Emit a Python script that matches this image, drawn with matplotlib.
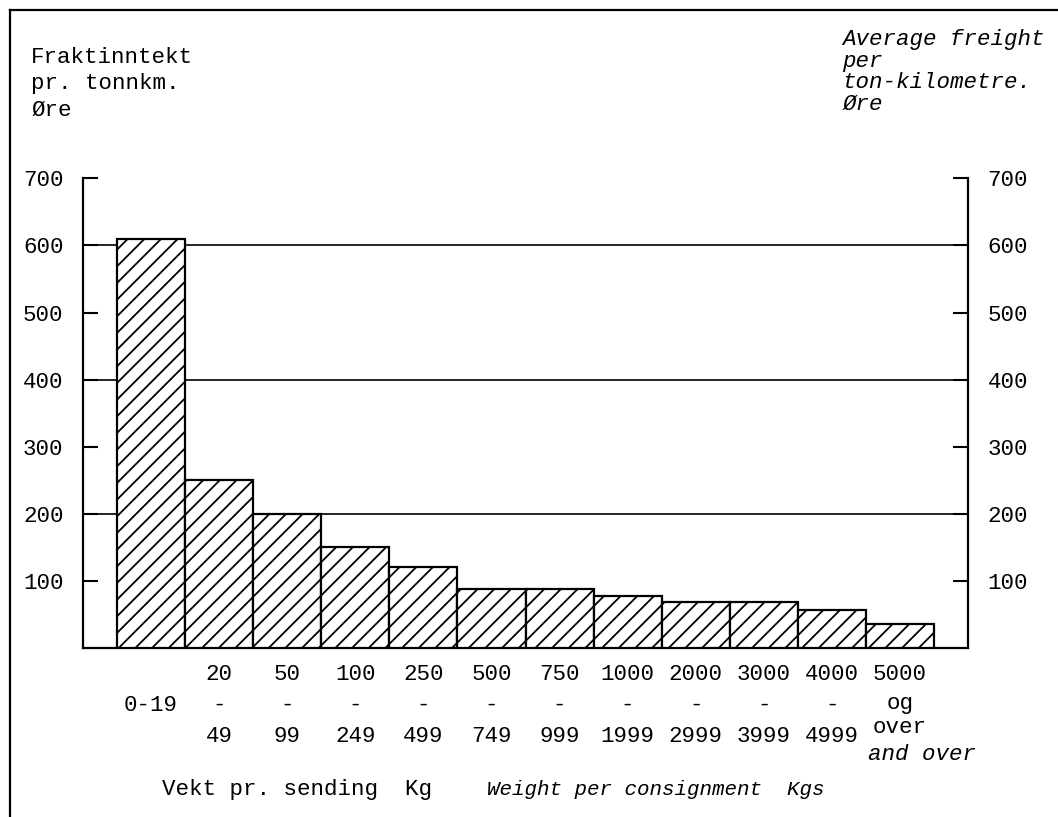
import matplotlib
matplotlib.use("Agg")
import matplotlib.pyplot as plt
import matplotlib.transforms as mtransforms
from matplotlib.lines import Line2D

# ---- data ----
values = [610, 250, 200, 150, 120, 88, 88, 78, 68, 68, 56, 36]
top_row = ["", "20", "50", "100", "250", "500", "750", "1000", "2000", "3000", "4000", "5000"]
mid_row = ["0-19", "-", "-", "-", "-", "-", "-", "-", "-", "-", "-", "og"]
bot_row = ["", "49", "99", "249", "499", "749", "999", "1999", "2999", "3999", "4999", "over"]
y_ticks = [100, 200, 300, 400, 500, 600, 700]
grid_vals = [200, 400, 600]
left_title = ["Fraktinntekt", "pr. tonnkm.", "\u00d8re"]
right_title = ["Average freight", "per", "ton-kilometre.", "\u00d8re"]
xlabel_no = "Vekt pr. sending  Kg"
xlabel_en = "Weight per consignment  Kgs"
and_over = "and over"

W, H = 1058, 817
FONT = "Liberation Mono"
FS = 16.2

plt.rcParams["hatch.linewidth"] = 1.3
plt.rcParams["font.family"] = [FONT, "DejaVu Sans Mono"]

fig = plt.figure(figsize=(W / 100, H / 100), dpi=100)

def fy(py):
    return 1 - py / H

def fx(px):
    return px / W

ax_left, ax_right = 83, 968
ax_bottom, ax_top = 648, 178.4
ax = fig.add_axes([fx(ax_left), fy(ax_bottom), fx(ax_right) - fx(ax_left), fy(ax_top) - fy(ax_bottom)])
ax.set_xlim(-0.5, 12.5)
ax.set_ylim(0, 700)

for g in grid_vals:
    ax.axhline(g, color="black", lw=1.2, zorder=1)

xs = list(range(len(values)))
ax.bar(xs, values, width=1.0, align="edge", color="white", edgecolor="black",
       linewidth=1.6, hatch="//", zorder=3)

ax.spines["top"].set_visible(False)
for s in ["left", "right", "bottom"]:
    ax.spines[s].set_linewidth(1.6)

ax.set_yticks(y_ticks)
ax.set_yticklabels([str(v) for v in y_ticks])
ax.tick_params(axis="y", direction="in", length=11, width=1.5, labelsize=FS,
               left=True, right=True, labelleft=True, labelright=True, pad=14)
ax.set_xticks([])

# x category labels
trans = mtransforms.blended_transform_factory(ax.transData, fig.transFigure)
last = len(xs) - 1
for i in xs:
    cx = i + 0.5
    if top_row[i]:
        ax.text(cx, fy(680), top_row[i], transform=trans, ha="center", va="baseline", fontsize=FS)
    ax.text(cx, fy(709 if i == last else 711), mid_row[i], transform=trans,
            ha="center", va="baseline", fontsize=FS)
    if bot_row[i]:
        ax.text(cx, fy(733 if i == last else 742), bot_row[i], transform=trans,
                ha="center", va="baseline", fontsize=FS)
fig.text(fx(868), fy(760), and_over, ha="left", va="baseline", fontsize=FS, style="italic")

# titles
for k, t in enumerate(left_title):
    fig.text(fx(31), fy(63 + 26.5 * k), t, ha="left", va="baseline", fontsize=FS)
for k, t in enumerate(right_title):
    fig.text(fx(842), fy(45 + 21.5 * k), t, ha="left", va="baseline", fontsize=FS, style="italic")

fig.text(fx(162), fy(795), xlabel_no, ha="left", va="baseline", fontsize=FS)
fig.text(fx(487), fy(795), xlabel_en, ha="left", va="baseline", fontsize=FS * 0.93, style="italic")

# outer frame (left and top)
fig.add_artist(Line2D([fx(10), fx(10)], [fy(10), fy(817)], color="black", lw=1.6, transform=fig.transFigure))
fig.add_artist(Line2D([fx(10), fx(1058)], [fy(10), fy(10)], color="black", lw=1.6, transform=fig.transFigure))

fig.savefig("out.png", dpi=100)
